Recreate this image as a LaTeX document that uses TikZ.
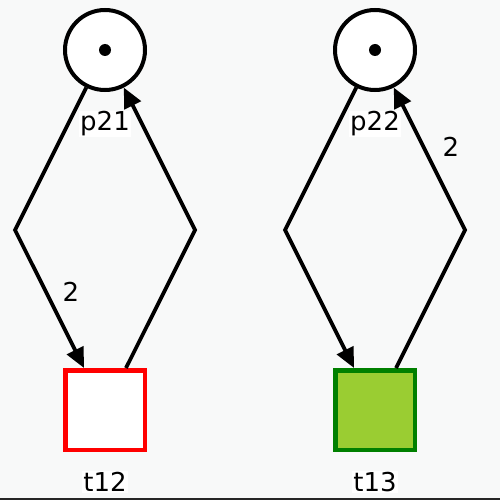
\documentclass[tikz,border=0pt]{standalone}
\usepackage{fontspec}
\setmainfont{DejaVu Sans}
\usetikzlibrary{arrows.meta}
\definecolor{bgc}{RGB}{248,249,249}
\definecolor{tgreen}{RGB}{154,205,50}
\definecolor{dgreen}{RGB}{0,128,0}
\begin{document}
\begin{tikzpicture}[x=1pt,y=-1pt,
  place/.style={circle,draw=black,line width=4pt,fill=white,minimum size=80pt,inner sep=0pt},
  trans/.style={rectangle,line width=4.5pt,minimum size=79.5pt,inner sep=0pt},
  token/.style={circle,fill=black,minimum size=12pt,inner sep=0pt},
  lbl/.style={fill=white,inner sep=1pt,font=\fontsize{26}{30}\selectfont},
  arc/.style={line width=3.8pt,line join=miter},
  tip/.style={-{Triangle[length=20pt,width=18pt]}}
]
\fill[bgc] (0,0) rectangle (500,500);
\useasboundingbox (0,0) rectangle (500,500);
\draw[line width=2.5pt,black!85] (0,499) -- (500,499);

\node[place] (p21) at (105,50) {};
\node[place] (p22) at (375,50) {};
\node[token] (k21) at (105,50) {};
\node[token] (k22) at (375,50) {};
\node[trans,draw=red,fill=white] (t12) at (105,410) {};
\node[trans,draw=dgreen,fill=tgreen] (t13) at (375,410) {};

\coordinate (a1) at (15,230);
\coordinate (a2) at (195,230);
\coordinate (a3) at (285,230);
\coordinate (a4) at (465,230);

\node[lbl] (lp21) at (105,124) {p21};
\node[lbl] (lp22) at (375,124) {p22};
\node[lbl] (lt12) at (105,482) {t12};
\node[lbl] (lt13) at (375,482) {t13};

\draw[arc,tip] (p21) -- (a1) -- (t12);
\draw[arc,tip] (t12) -- (a2) -- (p21);
\draw[arc,tip] (p22) -- (a3) -- (t13);
\draw[arc,tip] (t13) -- (a4) -- (p22);

\node[font=\fontsize{26}{30}\selectfont] (w1) at (71,292) {2};
\node[font=\fontsize{26}{30}\selectfont] (w2) at (451,147) {2};
\end{tikzpicture}
\end{document}
